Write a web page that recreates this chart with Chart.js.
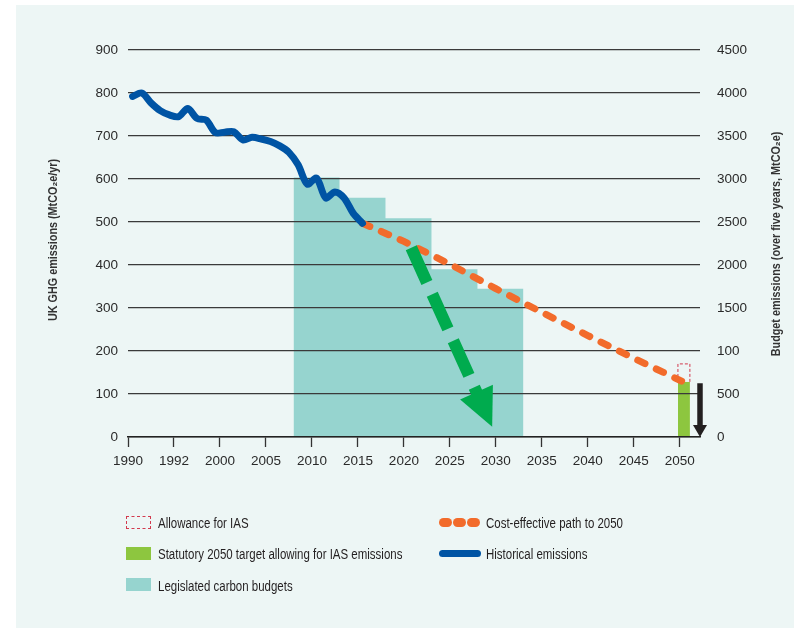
<!DOCTYPE html>
<html>
<head>
<meta charset="utf-8">
<script src="https://cdn.jsdelivr.net/npm/chart.js@4.4.0/dist/chart.umd.min.js"></script>
<style>
  body { margin: 0; background: #fff; }
  #wrap { position: relative; width: 794px; height: 628px; overflow: hidden; }
  #panel { position: absolute; left: 16px; top: 5px; right: 0; bottom: 0; background: #EDF6F5; }
  #chart { position: absolute; left: 0; top: 0; }
  .item { position: absolute; font-family: 'Liberation Sans', Arial, sans-serif;
          font-size: 14px; color: #231f20; line-height: 16px; white-space: nowrap;
          transform: scaleX(0.82); transform-origin: left center; }
  .sw { position: absolute; box-sizing: border-box; }
</style>
</head>
<body>
<div id="wrap">
  <div id="panel"></div>
  <canvas id="chart" width="794" height="628"></canvas>

  <div class="sw" style="left:126px;top:516px;width:25px;height:13px;border:1px dashed #d23a4e;"></div>
  <div class="item" style="left:158px;top:515px;">Allowance for IAS</div>
  <div class="sw" style="left:126px;top:547px;width:25px;height:13px;background:#8dc63f;"></div>
  <div class="item" style="left:158px;top:546px;">Statutory 2050 target allowing for IAS emissions</div>
  <div class="sw" style="left:126px;top:578px;width:25px;height:13px;background:#96d4cf;"></div>
  <div class="item" style="left:158px;top:578px;">Legislated carbon budgets</div>

  <div class="sw" style="left:439px;top:518px;width:13px;height:9px;border-radius:5px;background:#f26b2b;"></div>
  <div class="sw" style="left:453px;top:518px;width:13px;height:9px;border-radius:5px;background:#f26b2b;"></div>
  <div class="sw" style="left:467px;top:518px;width:13px;height:9px;border-radius:5px;background:#f26b2b;"></div>
  <div class="item" style="left:486px;top:515px;">Cost-effective path to 2050</div>
  <div class="sw" style="left:439px;top:550px;width:42px;height:7px;border-radius:4px;background:#0054a4;"></div>
  <div class="item" style="left:486px;top:546px;">Historical emissions</div>
</div>
<script>
// historical emissions, MtCO2e/yr (plotted at mid-year)
const histYears = [1990, 1991, 1992, 1993, 1994, 1995, 1996, 1997, 1998, 1999, 2000, 2001, 2002,
                   2003, 2004, 2005, 2006, 2007, 2008, 2009, 2010, 2011, 2012, 2013, 2014, 2015];
const histValues = [792, 800, 777, 759, 749, 745, 764, 741, 737, 708, 709, 710, 691,
                    697, 693, 687, 677, 662, 633, 588, 602, 556, 570, 556, 520, 497];

// cost-effective path to 2050
const pathYears = [2015.5, 2020, 2025, 2030, 2035, 2040, 2045, 2050.2];
const pathValues = [497, 455, 402, 345, 290, 236, 183, 130];

// legislated carbon budgets (right axis, over five years)
const budgetStarts = [2008, 2013, 2018, 2023, 2028];
const budgetValues = [3018, 2782, 2544, 1950, 1725];
const budgetEnd = 2033;

// 2050 target and IAS allowance
const targetSpan = [2049.8, 2051.1];
const targetValue = 128;
const iasTop = 170;

// arrows
const greenArrow = { from: [2020.8, 440], to: [2029.6, 24] };
const blackArrow = { from: [2052.2, 125], to: [2052.2, 0] };

// axis ticks
const xTickValues = [1990, 1995, 2000, 2005, 2010, 2015, 2020, 2025, 2030, 2035, 2040, 2045, 2050];
const xTickLabels = ['1990', '1992', '2000', '2005', '2010', '2015', '2020', '2025', '2030', '2035', '2040', '2045', '2050'];
const leftTickLabels = ['0', '100', '200', '300', '400', '500', '600', '700', '800', '900'];
const rightTickLabels = ['0', '500', '100', '1500', '2000', '2500', '3000', '3500', '4000', '4500'];

const leftTitle = 'UK GHG emissions (MtCO₂e/yr)';
const rightTitleText = 'Budget emissions (over five years, MtCO₂e)';

const fam = "'Liberation Sans', Arial, sans-serif";
const tickFont = { family: fam, size: 13.5 };

const budgetPoints = budgetStarts.map((s, i) => ({ x: s, y: budgetValues[i] }));
budgetPoints.push({ x: budgetEnd, y: budgetValues[budgetValues.length - 1] });

const arrows = {
  id: 'arrows',
  afterDatasetsDraw(chart) {
    const { ctx, scales: { x, y } } = chart;
    const px = p => [x.getPixelForValue(p[0]), y.getPixelForValue(p[1])];

    // green dashed arrow
    let [x0, y0] = px(greenArrow.from);
    let [x1, y1] = px(greenArrow.to);
    let len = Math.hypot(x1 - x0, y1 - y0);
    let ux = (x1 - x0) / len, uy = (y1 - y0) / len;
    const headL = 38, headW = 18;
    ctx.save();
    ctx.strokeStyle = '#00ab4e';
    ctx.fillStyle = '#00ab4e';
    ctx.lineWidth = 12;
    ctx.setLineDash([38, 13]);
    ctx.beginPath();
    ctx.moveTo(x0, y0);
    ctx.lineTo(x1 - ux * (headL - 4), y1 - uy * (headL - 4));
    ctx.stroke();
    ctx.setLineDash([]);
    let bx = x1 - ux * headL, by = y1 - uy * headL;
    ctx.beginPath();
    ctx.moveTo(x1, y1);
    ctx.lineTo(bx - uy * headW, by + ux * headW);
    ctx.lineTo(bx + uy * headW, by - ux * headW);
    ctx.closePath();
    ctx.fill();

    // black arrow
    [x0, y0] = px(blackArrow.from);
    [x1, y1] = px(blackArrow.to);
    ctx.strokeStyle = '#231f20';
    ctx.fillStyle = '#231f20';
    ctx.lineWidth = 5.5;
    ctx.beginPath();
    ctx.moveTo(x0, y0);
    ctx.lineTo(x1, y1 - 10);
    ctx.stroke();
    ctx.beginPath();
    ctx.moveTo(x1, y1);
    ctx.lineTo(x1 - 7, y1 - 12);
    ctx.lineTo(x1 + 7, y1 - 12);
    ctx.closePath();
    ctx.fill();
    ctx.restore();
  }
};

// axis titles, both reading bottom to top, condensed
const axisTitles = {
  id: 'axisTitles',
  afterDraw(chart) {
    const { ctx } = chart;
    const draw = (text, cx, cy) => {
      ctx.save();
      ctx.translate(cx, cy);
      ctx.rotate(-Math.PI / 2);
      ctx.scale(0.9, 1);
      ctx.font = 'bold 12px ' + fam;
      ctx.fillStyle = '#333';
      ctx.textAlign = 'center';
      ctx.textBaseline = 'middle';
      ctx.fillText(text, 0, 0);
      ctx.restore();
    };
    draw(leftTitle, 54, 240);
    draw(rightTitleText, 777, 244);
  }
};

new Chart(document.getElementById('chart'), {
  type: 'line',
  data: {
    datasets: [
      {
        label: 'Historical emissions',
        data: histYears.map((yr, i) => ({ x: yr + 0.5, y: histValues[i] })),
        borderColor: '#0054a4',
        borderWidth: 7,
        borderCapStyle: 'round',
        borderJoinStyle: 'round',
        tension: 0.3,
        pointRadius: 0,
        order: 1
      },
      {
        label: 'Cost-effective path to 2050',
        data: pathYears.map((yr, i) => ({ x: yr, y: pathValues[i] })),
        borderColor: '#f26b2b',
        borderWidth: 7,
        borderDash: [8, 12.5],
        borderCapStyle: 'round',
        pointRadius: 0,
        order: 2
      },
      {
        label: 'Allowance for IAS',
        data: [
          { x: targetSpan[0], y: targetValue }, { x: targetSpan[0], y: iasTop },
          { x: targetSpan[1], y: iasTop }, { x: targetSpan[1], y: targetValue }
        ],
        borderColor: '#d23a4e',
        borderWidth: 1,
        borderDash: [3, 2],
        pointRadius: 0,
        order: 3
      },
      {
        label: 'Statutory 2050 target allowing for IAS emissions',
        data: targetSpan.map(yr => ({ x: yr, y: targetValue })),
        borderColor: 'transparent',
        borderWidth: 0,
        backgroundColor: '#8dc63f',
        fill: 'origin',
        pointRadius: 0,
        order: 4
      },
      {
        label: 'Legislated carbon budgets',
        data: budgetPoints,
        yAxisID: 'y2',
        stepped: true,
        borderColor: 'transparent',
        borderWidth: 0,
        backgroundColor: '#96d4cf',
        fill: 'origin',
        pointRadius: 0,
        order: 5
      }
    ]
  },
  options: {
    responsive: false,
    animation: false,
    layout: { padding: { top: 50, bottom: 151, left: 0, right: 0 } },
    plugins: {
      legend: { display: false },
      tooltip: { enabled: false },
      filler: { drawTime: 'beforeDraw' }
    },
    scales: {
      x: {
        type: 'linear',
        min: 1990,
        max: 2052.2,
        afterBuildTicks: s => { s.ticks = xTickValues.map(v => ({ value: v })); },
        afterFit: s => { s.height = 40; },
        ticks: {
          callback: (v, i) => xTickLabels[i],
          autoSkip: false,
          maxRotation: 0,
          padding: 6,
          color: '#2a2a2a',
          font: tickFont
        },
        grid: { drawOnChartArea: false, drawTicks: true, tickLength: 10, tickColor: '#333', tickWidth: 1.3 },
        border: { display: true, color: '#222', width: 1.5 }
      },
      y: {
        position: 'left',
        min: 0,
        max: 900,
        afterFit: s => { s.width = 128; },
        ticks: {
          stepSize: 100,
          callback: (v, i) => leftTickLabels[i],
          padding: 10,
          color: '#2a2a2a',
          font: tickFont
        },
        grid: { color: '#3a3a3a', lineWidth: 1.2, drawTicks: false },
        border: { display: false }
      },
      y2: {
        position: 'right',
        min: 0,
        max: 4500,
        afterFit: s => { s.width = 94; },
        ticks: {
          stepSize: 500,
          callback: (v, i) => rightTickLabels[i],
          padding: 9,
          color: '#2a2a2a',
          font: tickFont
        },
        grid: { display: false },
        border: { display: false }
      }
    }
  },
  plugins: [arrows, axisTitles]
});
</script>
</body>
</html>
